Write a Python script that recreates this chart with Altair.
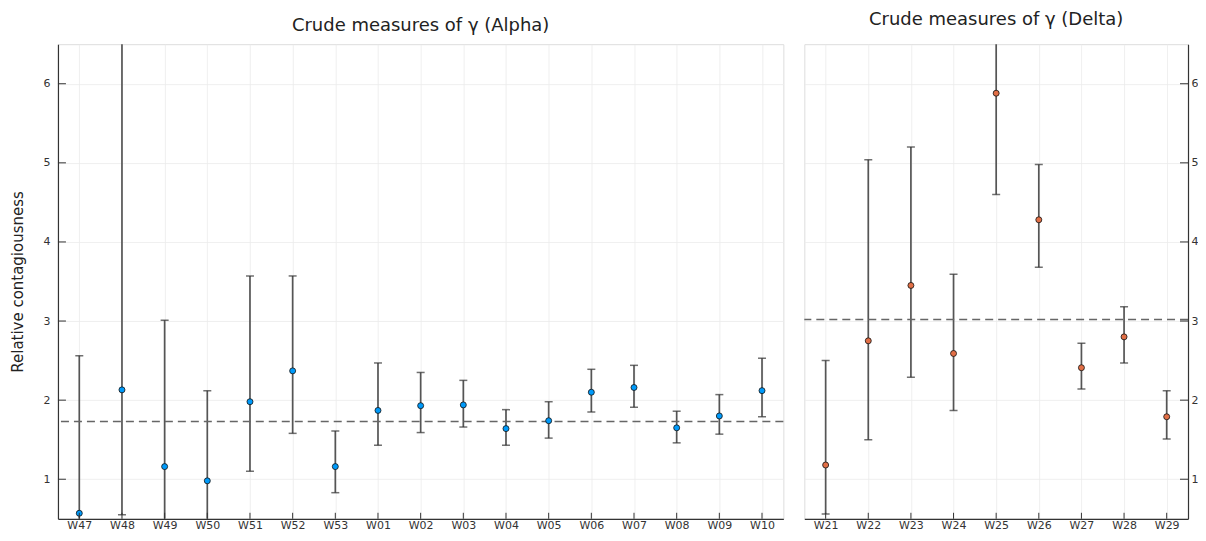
import altair as alt
import pandas as pd

# ---- data ----
alpha_weeks = ["W47", "W48", "W49", "W50", "W51", "W52", "W53", "W01", "W02",
               "W03", "W04", "W05", "W06", "W07", "W08", "W09", "W10"]
alpha_mid = [0.57, 2.13, 1.16, 0.98, 1.98, 2.37, 1.16, 1.87, 1.93,
             1.94, 1.64, 1.74, 2.10, 2.16, 1.65, 1.80, 2.12]
alpha_lo = [0.00, 0.55, 0.00, 0.00, 1.10, 1.58, 0.83, 1.43, 1.59,
            1.66, 1.43, 1.52, 1.85, 1.91, 1.46, 1.57, 1.79]
alpha_hi = [2.56, 8.00, 3.01, 2.12, 3.57, 3.57, 1.61, 2.47, 2.35,
            2.25, 1.88, 1.98, 2.39, 2.44, 1.86, 2.07, 2.53]
alpha_ref = 1.73

delta_weeks = ["W21", "W22", "W23", "W24", "W25", "W26", "W27", "W28", "W29"]
delta_mid = [1.18, 2.75, 3.45, 2.59, 5.88, 4.28, 2.41, 2.80, 1.79]
delta_lo = [0.56, 1.50, 2.29, 1.87, 4.60, 3.68, 2.14, 2.47, 1.51]
delta_hi = [2.50, 5.04, 5.20, 3.59, 7.50, 4.98, 2.72, 3.18, 2.12]
delta_ref = 3.02

y_ticks = [1, 2, 3, 4, 5, 6]
y_domain = [0.5, 6.5]

FONT = "DejaVu Sans"
H = 475


def panel(weeks, mid, lo, hi, ref, color, title, title_offset, width, y_orient):
    df = pd.DataFrame({"week": weeks, "mid": mid, "lo": lo, "hi": hi})
    refdf = pd.DataFrame({"ref": [ref]})
    tickdf = pd.DataFrame({"t": y_ticks})

    x = alt.X("week:N", sort=weeks,
              scale=alt.Scale(type="point", padding=0.5),
              axis=alt.Axis(title=None, labelAngle=0, labelFont=FONT, labelFontSize=11,
                            labelColor="#333", labelPadding=1, tickSize=0,
                            domainColor="#333", domainWidth=1.2,
                            grid=True, gridColor="#ebebeb", gridWidth=0.8))
    yscale = alt.Scale(domain=y_domain, nice=False, zero=False)
    if y_orient == "left":
        yaxis = alt.Axis(title="Relative contagiousness", values=y_ticks, format="d",
                         orient="left",
                         labelFont=FONT, labelFontSize=11, labelColor="#333", labelPadding=8,
                         titleFont=FONT, titleFontSize=15, titleFontWeight="normal",
                         titleColor="#222", titlePadding=17, tickSize=0,
                         domainColor="#333", domainWidth=1.2,
                         grid=True, gridColor="#ebebeb", gridWidth=0.8)
    else:
        yaxis = alt.Axis(title=None, values=y_ticks, format="d", orient="right",
                         labelFont=FONT, labelFontSize=11, labelColor="#333", labelPadding=3,
                         tickSize=0, domainColor="#333", domainWidth=1.2,
                         grid=True, gridColor="#ebebeb", gridWidth=0.8)

    base = alt.Chart(df)
    bars = base.mark_rule(color="#555", strokeWidth=1.7, clip=True).encode(
        x=x, y=alt.Y("lo:Q", scale=yscale, axis=yaxis), y2="hi:Q")
    cap_lo = base.mark_tick(color="#333", size=8, thickness=1.5, clip=True).encode(
        x=x, y=alt.Y("lo:Q", scale=yscale))
    cap_hi = base.mark_tick(color="#333", size=8, thickness=1.5, clip=True).encode(
        x=x, y=alt.Y("hi:Q", scale=yscale))
    pts = base.mark_point(filled=True, shape="circle", size=36, fill=color, fillOpacity=1,
                          stroke="#111", strokeWidth=0.8, opacity=1, clip=True).encode(
        x=x, y=alt.Y("mid:Q", scale=yscale))
    refline = alt.Chart(refdf).mark_rule(color="#666", strokeWidth=1.6,
                                         strokeDash=[8, 5]).encode(
        y=alt.Y("ref:Q", scale=yscale))

    # inward tick marks (Julia-style)
    if y_orient == "left":
        yt = alt.Chart(tickdf).mark_rule(color="#333", strokeWidth=1).encode(
            y=alt.Y("t:Q", scale=yscale), x=alt.value(0), x2=alt.value(8))
    else:
        yt = alt.Chart(tickdf).mark_rule(color="#333", strokeWidth=1).encode(
            y=alt.Y("t:Q", scale=yscale), x=alt.value(width), x2=alt.value(width - 8))
    xt = base.mark_rule(color="#333", strokeWidth=1).encode(
        x=x, y=alt.value(H), y2=alt.value(H - 6))

    return alt.layer(bars, cap_lo, cap_hi, refline, pts, yt, xt).properties(
        width=width, height=H,
        title=alt.TitleParams(title, font=FONT, fontSize=18, fontWeight="normal",
                              color="#222", anchor="middle", offset=title_offset))


left = panel(alpha_weeks, alpha_mid, alpha_lo, alpha_hi, alpha_ref, "#009AFA",
             "Crude measures of γ (Alpha)", 8.8, 726, "left")
right = panel(delta_weeks, delta_mid, delta_lo, delta_hi, delta_ref, "#E26F46",
              "Crude measures of γ (Delta)", 15.5, 384, "right")

chart = alt.hconcat(left, right, spacing=21, bounds="flush").properties(
    padding={"left": 2, "top": 2, "right": -1, "bottom": 0}
).configure_view(stroke=None).configure(background="white")

chart.save("out.html", embed_options={"renderer": "svg", "actions": False})
